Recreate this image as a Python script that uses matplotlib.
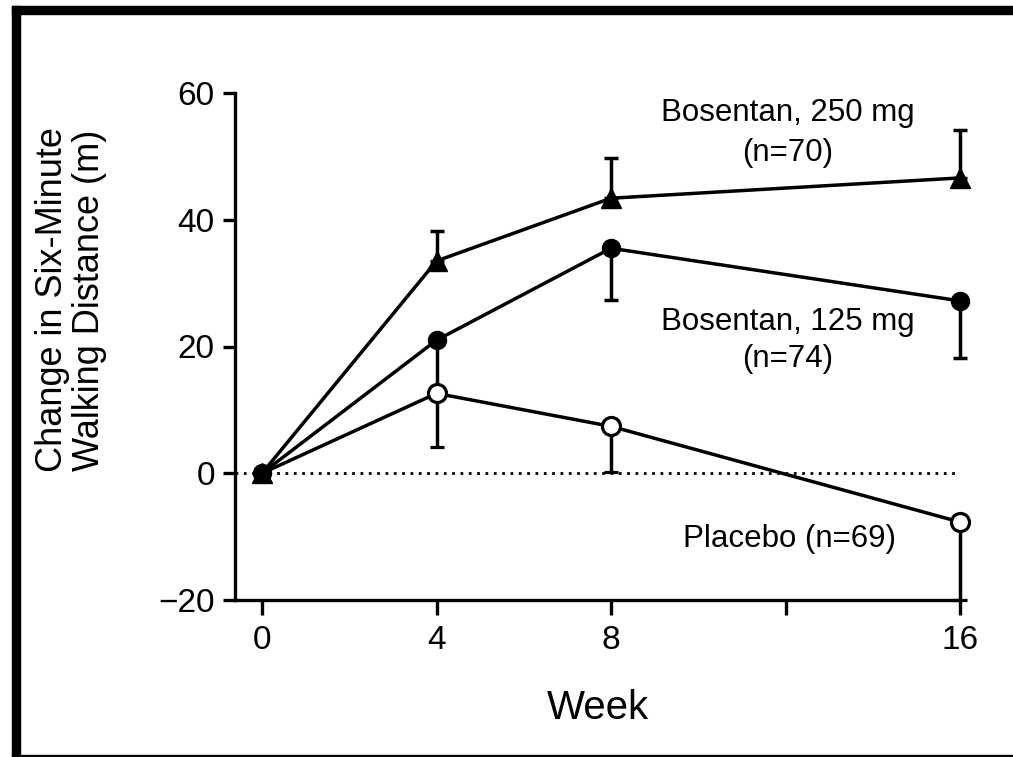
import numpy as np
import matplotlib
matplotlib.use("Agg")
import matplotlib.pyplot as plt
from matplotlib.patches import Rectangle

plt.rcParams['font.family'] = ['Liberation Sans', 'DejaVu Sans']

# данные
weeks = [0, 4, 8, 16]
b250 = [0, 33.5, 43.4, 46.6]
b250_up = [0, 4.7, 6.3, 7.5]
b125 = [0, 21.0, 35.5, 27.2]
b125_lo = [0, 8.5, 8.2, 9.0]
placebo = [0, 12.6, 7.4, -7.7]
placebo_lo = [0, 8.4, 7.2, 12.3]

xticks = [0, 4, 8, 12, 16]
xticklabels = ['0', '4', '8', '', '16']
yticks = [-20, 0, 20, 40, 60]

W, H = 1013, 757
fig = plt.figure(figsize=(W / 100, H / 100), dpi=100)
ax = fig.add_axes([235 / W, 1 - 600 / H, (960 - 235) / W, (600 - 93) / H])

lw = 2.5
zeros = np.zeros(len(weeks))
ax.errorbar(weeks, b250, yerr=[zeros, b250_up], color='black', lw=lw, elinewidth=lw,
            capsize=5, capthick=lw, marker='^', ms=14, mfc='black', mec='black', clip_on=False, zorder=3)
ax.errorbar(weeks, b125, yerr=[b125_lo, zeros], color='black', lw=lw, elinewidth=lw,
            capsize=5, capthick=lw, marker='o', ms=13, mfc='black', mec='black', clip_on=False, zorder=4)
# у плацебо в нуле маркер не виден (перекрыт), поэтому пропускаем его
ax.errorbar(weeks, placebo, yerr=[placebo_lo, zeros], color='black', lw=lw, elinewidth=lw,
            capsize=5, capthick=lw, marker='o', ms=13, mfc='white', mec='black', mew=2.3,
            markevery=[1, 2, 3], clip_on=False, zorder=5)

ax.axhline(0, color='black', lw=2, ls=(0, (1, 2)), zorder=1)

ax.set_xlim(-0.62, 16)
ax.set_ylim(-20, 60)
ax.set_xticks(xticks)
ax.set_xticklabels(xticklabels)
ax.set_yticks(yticks)

for s in ['top', 'right']:
    ax.spines[s].set_visible(False)
for s in ['left', 'bottom']:
    ax.spines[s].set_linewidth(2.4)
ax.tick_params(axis='x', length=11, width=2.4, labelsize=24, pad=7)
ax.tick_params(axis='y', length=8.5, width=2.4, labelsize=24, pad=6)

ax.set_xlabel('Week', fontsize=29)
ax.xaxis.set_label_coords(0.5, -0.213)
ax.xaxis.label.set_va('center')
ax.set_ylabel('Change in Six-Minute\nWalking Distance (m)', fontsize=26, linespacing=1.05)
ax.yaxis.set_label_coords(-0.226, 0.592)
ax.yaxis.label.set_va('center')

fs = 22.5
ax.text(12.05, 56.9, 'Bosentan, 250 mg', fontsize=fs, ha='center', va='center')
ax.text(12.05, 50.6, '(n=70)', fontsize=fs, ha='center', va='center')
ax.text(12.05, 23.8, 'Bosentan, 125 mg', fontsize=fs, ha='center', va='center')
ax.text(12.05, 18.1, '(n=74)', fontsize=fs, ha='center', va='center')
ax.text(12.1, -10.3, 'Placebo (n=69)', fontsize=fs, ha='center', va='center')

# рамка
fig.patches.append(Rectangle((12 / W, 1 - 14 / H), 1, 8 / H, transform=fig.transFigure,
                             color='black', zorder=10))
fig.patches.append(Rectangle((12 / W, 0), 8 / W, 1 - 6 / H, transform=fig.transFigure,
                             color='black', zorder=10))
fig.patches.append(Rectangle((12 / W, 0), 1, 2.5 / H, transform=fig.transFigure,
                             color='black', zorder=10))

fig.savefig('out.png', dpi=100)
